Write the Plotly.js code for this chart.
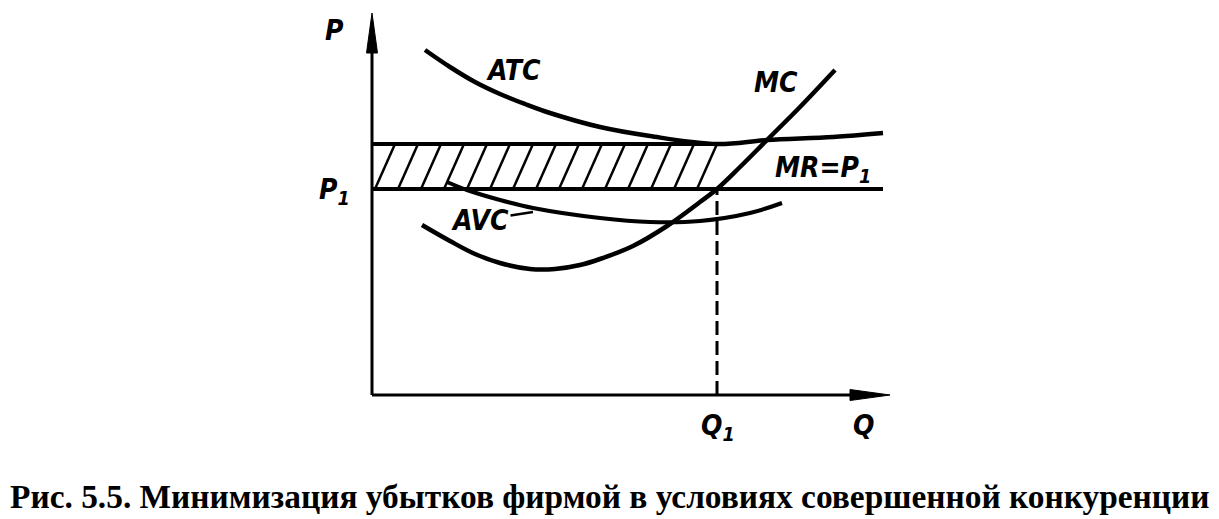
<!DOCTYPE html>
<html>
<head>
<meta charset="utf-8">
<script src="https://cdn.plot.ly/plotly-3.0.1.min.js"></script>
<style>html,body{margin:0;padding:0;background:#fff;}#chart{width:1219px;height:519px;}</style>
</head>
<body>
<div id="chart"></div>
<script>
// Values (arbitrary units: Q along x, P along y)
const atcQ = [53, 78, 103, 128, 153, 178, 228, 278, 345, 395, 461, 511];
const atcP = [345, 328, 313, 301, 291, 282, 268, 259, 251, 255, 258, 262];
const mcQ  = [50, 78, 103, 128, 158, 183, 208, 228, 261, 295, 328, 345, 368, 395, 428, 463];
const mcP  = [170, 154, 141, 132, 126, 126, 130, 136, 149, 169, 193, 206, 228, 255, 288, 325];
const avcQ = [75, 95, 128, 161, 228, 278, 328, 378, 410];
const avcP = [213, 205, 195, 187, 177, 173, 174, 182, 192];
const Q1 = 345;        // output
const P1 = 206;        // price = MR
const ATC1 = 251;      // ATC at Q1
const qMax = 518, pMax = 382;   // axis extents (arrow tips)
const mrEnd = 511;
const labels = {P: 'P', Q: 'Q', P1: 'P<sub>1</sub>', Q1: 'Q<sub>1</sub>', ATC: 'ATC', MC: 'MC', AVC: 'AVC', MR: 'MR=P<sub>1</sub>'};
const caption = 'Рис. 5.5. Минимизация убытков фирмой в условиях совершенной конкуренции';

const xr = [-20, 527], yr = [-20, 395];

// hatch lines inside the loss rectangle
const hx = [], hy = [];
const step = 23, slant = 20;
for (let x0 = -slant; x0 < Q1; x0 += step) {
  let xa = x0, ya = P1, xb = x0 + slant, yb = ATC1;
  const k = (ATC1 - P1) / slant;
  if (xa < 0) { ya = P1 + (0 - xa) * k; xa = 0; }
  if (xb > Q1) { yb = P1 + (Q1 - x0) * k; xb = Q1; }
  hx.push(xa, xb, null); hy.push(ya, yb, null);
}

// narrow arrow heads at the axis ends
const headLen = 40, headHalf = 5.5;
const blk = '#000';
const traces = [
  {x: hx, y: hy, mode: 'lines', line: {color: blk, width: 2.5}},
  {x: [0, qMax - 10], y: [0, 0], mode: 'lines', line: {color: blk, width: 3}},
  {x: [0, 0], y: [0, pMax - 10], mode: 'lines', line: {color: blk, width: 3}},
  {x: [qMax, qMax - headLen, qMax - headLen, qMax], y: [0, headHalf, -headHalf, 0], mode: 'lines',
   fill: 'toself', fillcolor: blk, line: {color: blk, width: 1}},
  {x: [0, headHalf, -headHalf, 0], y: [pMax, pMax - headLen, pMax - headLen, pMax], mode: 'lines',
   fill: 'toself', fillcolor: blk, line: {color: blk, width: 1}},
  {x: [0, Q1], y: [ATC1, ATC1], mode: 'lines', line: {color: blk, width: 4}},
  {x: [0, mrEnd], y: [P1, P1], mode: 'lines', line: {color: blk, width: 4}},
  {x: [Q1, Q1], y: [0, P1], mode: 'lines', line: {color: blk, width: 3, dash: '14px,6px'}},
  {x: atcQ, y: atcP, mode: 'lines', line: {color: blk, width: 4.5, shape: 'spline', smoothing: 1}},
  {x: mcQ, y: mcP, mode: 'lines', line: {color: blk, width: 4.5, shape: 'spline', smoothing: 1}},
  {x: avcQ, y: avcP, mode: 'lines', line: {color: blk, width: 4, shape: 'spline'}}
];

const lf = {family: 'DejaVu Sans Condensed, DejaVu Sans, sans-serif', size: 28, color: blk};
const px = x => (x - xr[0]) / (xr[1] - xr[0]);
const py = y => (y - yr[0]) / (yr[1] - yr[0]);
function lab(t, x, y) {
  return {text: '<b><i>' + t + '</i></b>', x: px(x), y: py(y), xref: 'paper', yref: 'paper',
          xanchor: 'center', yanchor: 'middle', showarrow: false, font: lf};
}
const ann = [
  lab(labels.P, -38, 365),
  lab(labels.P1, -38, 203),
  lab(labels.Q, 491, -30),
  lab(labels.Q1, 346, -32),
  lab(labels.ATC, 141, 324),
  lab(labels.MC, 404, 313),
  lab(labels.MR, 451, 226),
  {text: '<b><i>' + labels.AVC + '</i></b>', x: 161, y: 183, xref: 'x', yref: 'y', ax: -53, ay: 8,
   showarrow: true, arrowhead: 0, arrowwidth: 2.5, arrowcolor: blk, standoff: 0, font: lf},
  {text: '<b>' + caption + '</b>', x: px(238), y: py(-101), xref: 'paper', yref: 'paper',
   xanchor: 'center', yanchor: 'middle', showarrow: false,
   font: {family: 'Liberation Serif, Times New Roman, serif', size: 33.4, color: blk}}
];

const layout = {
  width: 1219, height: 519,
  margin: {l: 352, r: 320, t: 0, b: 104, pad: 0},
  paper_bgcolor: '#fff', plot_bgcolor: '#fff',
  showlegend: false,
  xaxis: {range: xr, visible: false, fixedrange: true},
  yaxis: {range: yr, visible: false, fixedrange: true},
  annotations: ann
};
traces.forEach(t => { t.cliponaxis = false; t.showlegend = false; t.hoverinfo = 'skip'; });
Plotly.newPlot('chart', traces, layout, {displayModeBar: false, staticPlot: true});
</script>
</body>
</html>
